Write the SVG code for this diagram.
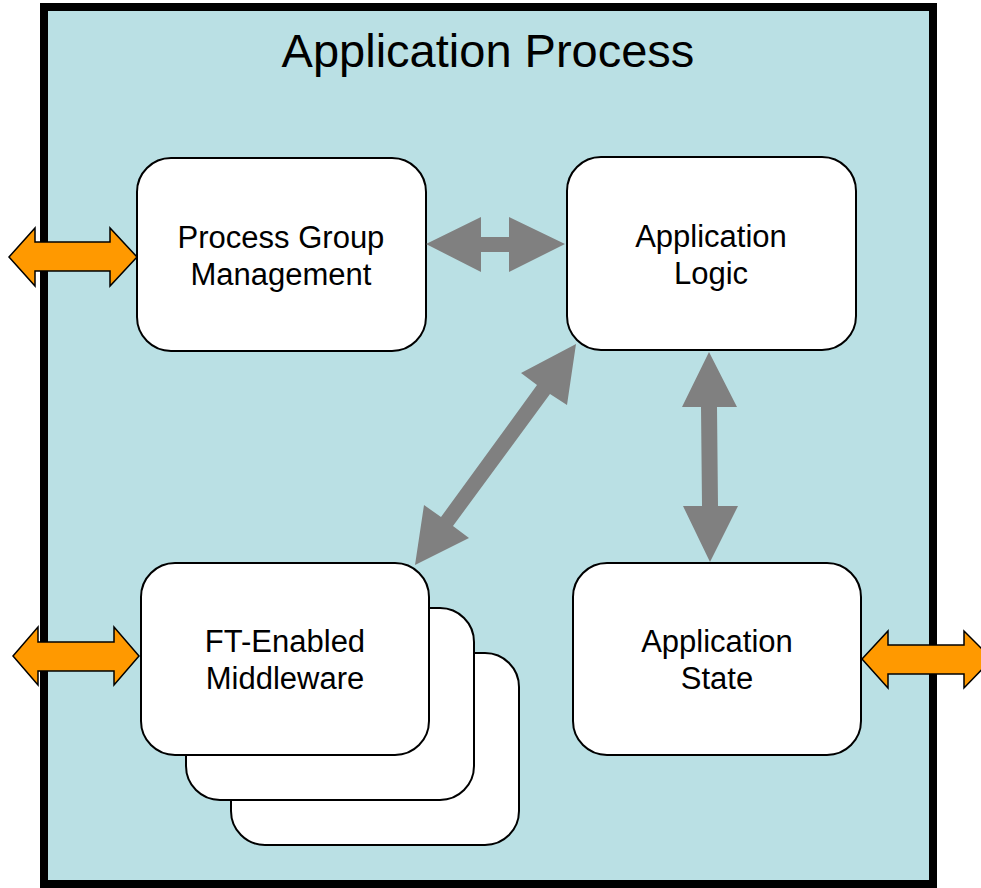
<svg xmlns="http://www.w3.org/2000/svg" width="981" height="888" viewBox="0 0 981 888">
<style>
.box{fill:#fff;stroke:#000;stroke-width:2}
.lbl{font-family:"Liberation Sans",Arial,sans-serif;font-size:31px;fill:#000;text-anchor:middle}
.gray{fill:#808080;stroke:none}
.orange{fill:#FF9900;stroke:#000;stroke-width:1.5;stroke-linejoin:miter}
</style>
<rect width="981" height="888" fill="#fff"/>
<g id="frame">
<rect x="44" y="7" width="889" height="877" fill="#BAE0E4" stroke="#000" stroke-width="8"/>
<text x="488" y="67" font-family="'Liberation Sans',Arial,sans-serif" font-size="47" text-anchor="middle">Application Process</text>
</g>
<g id="pgm">
<rect class="box" x="137" y="158" width="289" height="193" rx="34"/>
<text class="lbl" x="281" y="248">Process Group</text>
<text class="lbl" x="281" y="285">Management</text>
</g>
<g id="logic">
<rect class="box" x="567" y="157" width="289" height="193" rx="34"/>
<text class="lbl" x="711" y="247">Application</text>
<text class="lbl" x="711" y="284">Logic</text>
</g>
<g id="middleware">
<rect class="box" x="231" y="653" width="288" height="192" rx="34"/>
<rect class="box" x="186" y="608" width="288" height="192" rx="34"/>
<rect class="box" x="141" y="563" width="288" height="192" rx="34"/>
<text class="lbl" x="285" y="652">FT-Enabled</text>
<text class="lbl" x="285" y="689">Middleware</text>
</g>
<g id="state">
<rect class="box" x="573" y="563" width="288" height="192" rx="34"/>
<text class="lbl" x="717" y="652">Application</text>
<text class="lbl" x="717" y="689">State</text>
</g>
<g id="connectors">
<polygon class="gray" points="426,244 481,217 481,237 509,237 509,217 565,244 509,272 509,252 481,252 481,272"/>
<polygon class="gray" points="709,352 682,407 701,407 702,506 683,506 710,562 738,506 718,506 717,407 737,407"/>
<polygon class="gray" points="576,344 567,405 550,394 453,526 469,538 415,565 424,505 441,517 537,385 521,373"/>
<polygon class="orange" points="9,257 35,228 35,242 110,242 110,228 137,257 110,286 110,271 35,271 35,286"/>
<polygon class="orange" points="13,656 38,627 38,642 114,642 114,627 139,656 114,685 114,671 38,671 38,685"/>
<polygon class="orange" points="862,659 888,631 888,645 964,645 964,631 992,659 964,688 964,674 888,674 888,688"/>
</g>
</svg>
